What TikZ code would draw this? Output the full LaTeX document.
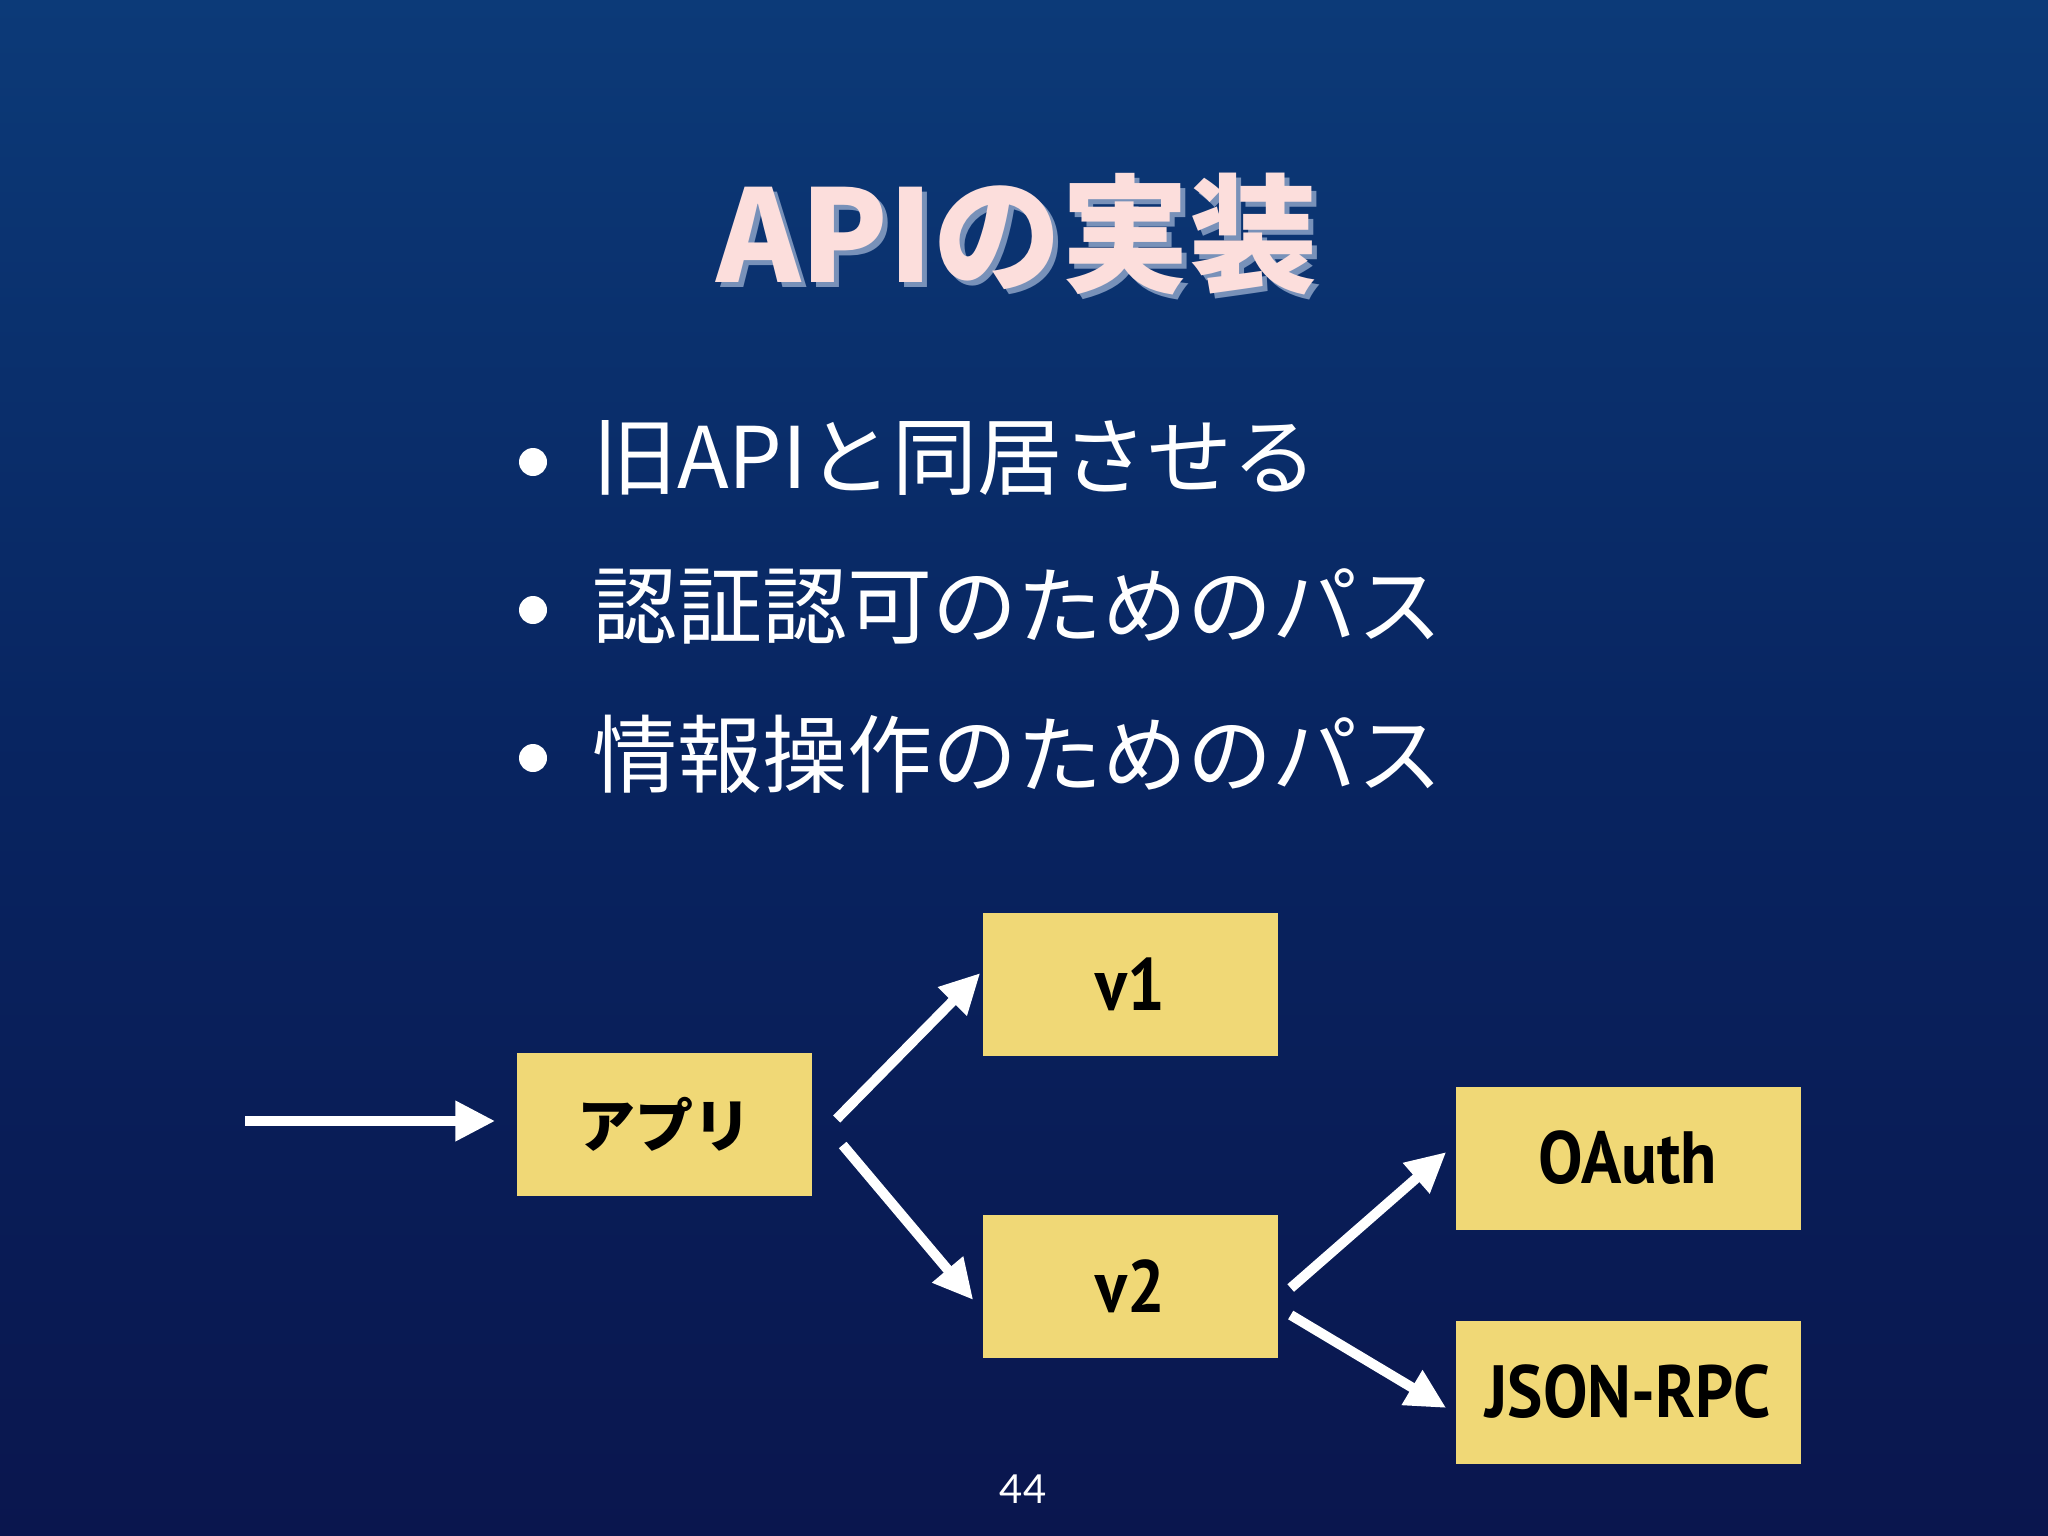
\documentclass[tikz,border=0pt]{standalone}
\usepackage{fontspec}
\usetikzlibrary{arrows.meta,calc}
\setmainfont{Noto Sans CJK JP}
\newfontfamily\cjk{Noto Sans CJK JP}
\newfontfamily\boxlatin[FakeStretch=0.9]{PT Sans}
\newfontfamily\numfont{Lato}
\definecolor{bgtop}{RGB}{12,58,120}
\definecolor{bgmid}{RGB}{8,36,96}
\definecolor{bgbot}{RGB}{10,22,78}
\definecolor{boxyellow}{RGB}{240,216,118}
\definecolor{titlepink}{RGB}{252,222,220}
\definecolor{titleshadow}{RGB}{120,145,185}
\tikzset{
  stickybox/.style={fill=boxyellow, draw=none, minimum width=295pt, minimum height=143pt, inner sep=0pt},
  widebox/.style={stickybox, minimum width=345pt},
  boxtext/.style={font=\boxlatin\bfseries\fontsize{74}{86}\selectfont, text=black},
  cjkboxtext/.style={font=\cjk\bfseries\fontsize{58}{70}\selectfont, text=black},
  arr/.style={draw=white, line width=10pt, -{Triangle[length=40pt,width=38pt]}},
  bullettext/.style={anchor=west, text=white, font=\cjk\fontsize{85}{100}\selectfont, inner sep=0pt},
  bulletdot/.style={circle, fill=white, minimum size=28pt, inner sep=0pt},
}
\begin{document}
\begin{tikzpicture}[x=1pt,y=-1pt]
\useasboundingbox (0,0) rectangle (2048,1536);
\shade[top color=bgtop, bottom color=bgbot, middle color=bgmid, draw=none] (0,0) rectangle (2048,1536);
% title with shadow (one node)
\node[text=titlepink, font=\cjk\bfseries\fontsize{128}{140}\selectfont, inner sep=0pt] (title) at (1017,234)
  {\rlap{\kern5pt\raisebox{-5pt}[0pt][0pt]{\textcolor{titleshadow}{APIの実装}}}APIの実装};
% bullets
\node[bulletdot] (d1) at (533,462) {};
\node[bulletdot] (d2) at (533,610) {};
\node[bulletdot] (d3) at (533,758) {};
\node[bullettext] (b1) at (592,458) {旧APIと同居させる};
\node[bullettext] (b2) at (592,606) {認証認可のためのパス};
\node[bullettext] (b3) at (592,754) {情報操作のためのパス};
% boxes
\node[stickybox] (app) at (664,1124) {};
\node[cjkboxtext] (applabel) at (664,1124) {アプリ};
\node[stickybox] (v1) at (1130,984) {};
\node[boxtext] (v1label) at (1130,984) {v1};
\node[stickybox] (v2) at (1130,1286) {};
\node[boxtext] (v2label) at (1130,1286) {v2};
\node[widebox] (oauth) at (1628,1158) {};
\node[boxtext] (oauthlabel) at (1628,1158) {OAuth};
\node[widebox] (json) at (1628,1392) {};
\node[boxtext] (jsonlabel) at (1628,1392) {JSON-RPC};
% connectors
\coordinate (in) at (245,1121);
\draw[arr] (in) -- ([shift={(-21,-3)}]app.west);
\draw[arr] ([shift={(25,-5)}]app.east) -- ([shift={(-2,-11)}]v1.west);
\draw[arr] ([shift={(31,21)}]app.east) -- ([shift={(-9,14)}]v2.west);
\draw[arr] ([shift={(13,2)}]v2.east) -- ([shift={(-9,-6)}]oauth.west);
\draw[arr] ([shift={(13,29)}]v2.east) -- ([shift={(-9,16)}]json.west);
% page number
\node[text=white, font=\numfont\fontsize{40}{48}\selectfont] (pagenum) at (1023,1489) {44};
\end{tikzpicture}
\end{document}
